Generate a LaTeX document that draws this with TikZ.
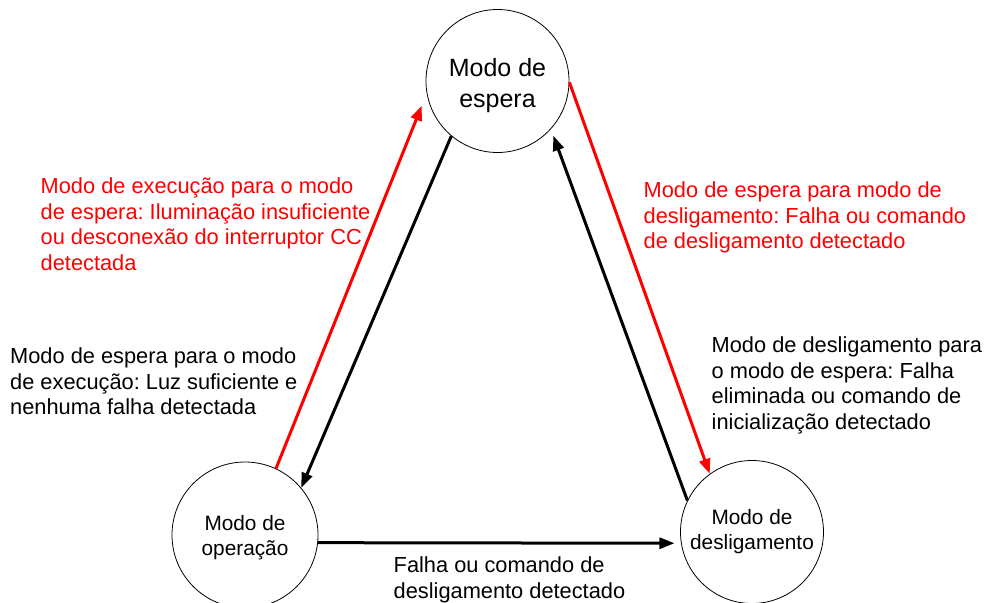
\documentclass[tikz,border=0pt]{standalone}
\usepackage{fontspec}
\setmainfont{Liberation Sans}
\usetikzlibrary{arrows.meta}
\frenchspacing

\begin{document}
\begin{tikzpicture}[x=1pt,y=-1pt,
    modo/.style={draw,circle,line width=0.8pt,inner sep=0pt,align=center,
      font=\fontsize{20.8}{25}\selectfont},
    trans/.style={line width=3pt,-{Triangle[length=15pt,width=11pt]}},
    rotulo/.style={anchor=north west,inner sep=0pt,align=left,
      font=\fontsize{21.8}{25.5}\selectfont}]
  \useasboundingbox (0,0) rectangle (989,603);

  % estados
  \node[modo,minimum size=143pt,font=\fontsize{25}{31}\selectfont] (espera) at (497.5,81) {\rule{0pt}{28pt}Modo de\\espera};
  \node[modo,minimum size=146pt] (operacao) at (245,535) {\rule{0pt}{20pt}Modo de\\operação};
  \node[modo,minimum size=143pt] (deslig) at (752,532) {Modo de\\desligamento};

  % transicoes
  \draw[trans,red] (operacao.65) -- (espera.190) [shorten >=13pt];
  \draw[trans] (espera.230) -- (operacao.40);
  \draw[trans,red] (espera.-1) -- (deslig.126);
  \draw[trans] (deslig.154) -- (espera.-42) [shorten >=7pt];
  \draw[trans] (operacao.-6) -- (deslig.189) [shorten >=6.5pt];

  % rotulos
  \node[rotulo,red] (r1) at (40.5,177.5) {Modo de execução para o modo\\de espera: Iluminação insuficiente\\ou desconexão do interruptor CC\\detectada};
  \node[rotulo] (r2) at (10,347.5) {Modo de espera para o modo\\de execução: Luz suficiente e\\nenhuma falha detectada};
  \node[rotulo,red] (r3) at (643.5,181.5) {Modo de espera para modo de\\desligamento: Falha ou comando\\de desligamento detectado};
  \node[rotulo] (r4) at (711.5,336.5) {Modo de desligamento para\\o modo de espera: Falha\\eliminada ou comando de\\inicialização detectado};
  \node[rotulo] (r5) at (393.5,556.5) {Falha ou comando de\\desligamento detectado};
\end{tikzpicture}
\end{document}
